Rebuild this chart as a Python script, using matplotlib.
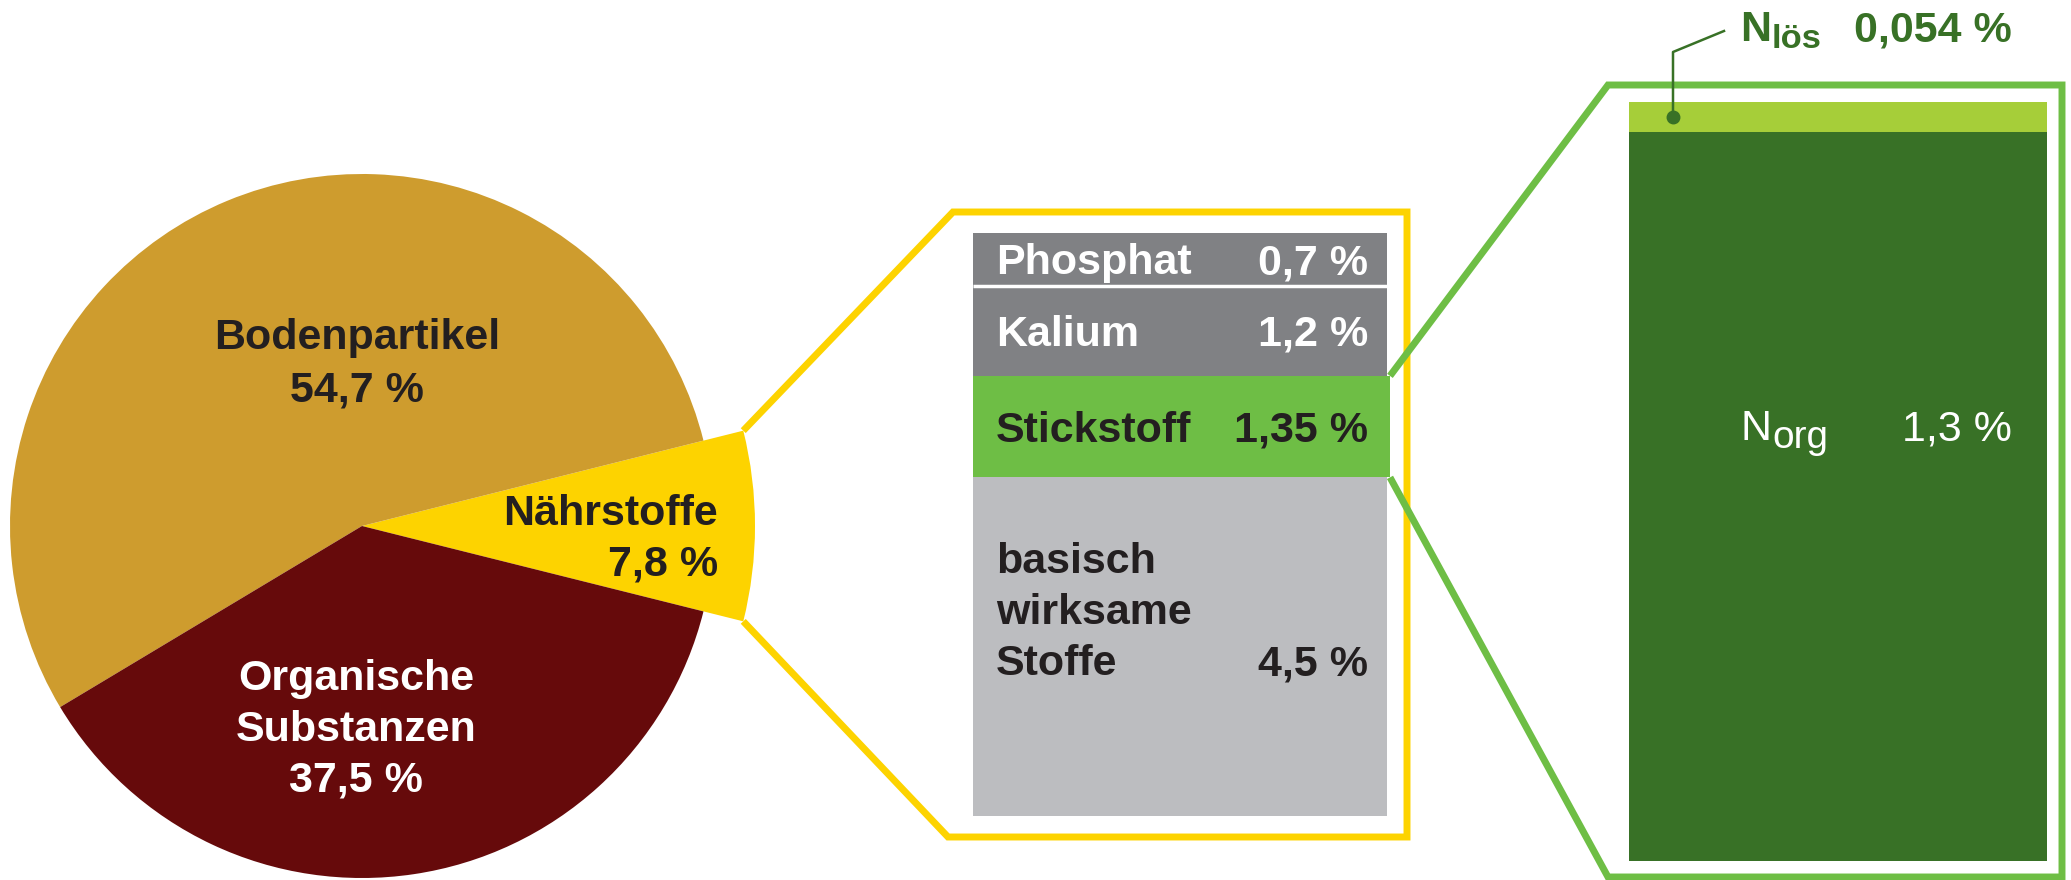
import numpy as np
import matplotlib
matplotlib.use("Agg")
import matplotlib.pyplot as plt

plt.rcParams['font.family'] = ['Liberation Sans', 'DejaVu Sans']

# pie: share of soil components (%)
pie_labels = ['Nährstoffe', 'Bodenpartikel', 'Organische\nSubstanzen']
pie_values = [7.8, 54.7, 37.5]
pie_texts = ['7,8 %', '54,7 %', '37,5 %']

# nutrient breakdown (%), top to bottom
nut_labels = ['Phosphat', 'Kalium', 'Stickstoff', 'basisch\nwirksame\nStoffe']
nut_values = [0.7, 1.2, 1.35, 4.5]
nut_texts = ['0,7 %', '1,2 %', '1,35 %', '4,5 %']

# nitrogen breakdown (%), top to bottom
n_subs = ['lös', 'org']
n_values = [0.054, 1.3]
n_texts = ['0,054 %', '1,3 %']

GOLD = '#CE9C2E'
DARKRED = '#660A0B'
YELLOW = '#FDD300'
GREY = '#808184'
LIGHTGREY = '#BCBDC0'
GREEN = '#6EBE45'
DARKGREEN = '#387126'
LIMEGREEN = '#A6CE39'
TXT = '#231F20'
FS = 31

fig = plt.figure(figsize=(20.71, 8.8), dpi=100)
ax = fig.add_axes([0, 0, 1, 1])

# ---- pie ----
cx, cy, r = 362, 526, 352
half = 360 * pie_values[0] / sum(pie_values) / 2
wedges, _ = ax.pie(pie_values, colors=[YELLOW, GOLD, DARKRED], startangle=half,
                   counterclock=False, center=(cx, cy), radius=r,
                   wedgeprops=dict(linewidth=0))
r_big = 393
wedges[0].set_radius(r_big)

ax.set_xlim(0, 2071)
ax.set_ylim(880, 0)
ax.set_aspect('equal')
ax.axis('off')

ax.text(357, 349, pie_labels[1], ha='center', va='baseline', fontsize=FS,
        fontweight='bold', color=TXT)
ax.text(357, 401, pie_texts[1], ha='center', va='baseline', fontsize=FS,
        fontweight='bold', color=TXT)
ax.text(718, 525, pie_labels[0], ha='right', va='baseline', fontsize=FS,
        fontweight='bold', color=TXT)
ax.text(718, 576, pie_texts[0], ha='right', va='baseline', fontsize=FS,
        fontweight='bold', color=TXT)
for i, line in enumerate(pie_labels[2].split('\n') + [pie_texts[2]]):
    ax.text(356, 690 + 51 * i, line, ha='center', va='baseline', fontsize=FS,
            fontweight='bold', color='white')

# wedge corners for the zoom frame
a = np.radians(half)
wx = cx + r_big * np.cos(a)
wy_top = cy - r_big * np.sin(a)
wy_bot = cy + r_big * np.sin(a)

# ---- nutrient stack ----
top, scale = 233, 75.2
heights = np.array(nut_values) * scale
bottoms = top + np.concatenate([[0], np.cumsum(heights)[:-1]])
widths = [414, 414, 417, 414]
ax.bar(973, heights, bottom=bottoms, width=widths, align='edge',
       color=[GREY, GREY, GREEN, LIGHTGREY], linewidth=0)
ax.hlines(bottoms[1], 973, 1387, color='white', lw=2.5)

ax.plot([wx, 953, 1407, 1407, 948, wx], [wy_top, 212, 212, 837, 837, wy_bot],
        color=YELLOW, lw=5, solid_joinstyle='miter', solid_capstyle='butt')

for i in range(3):
    c = 'white' if i < 2 else TXT
    yb = bottoms[i] + heights[i] / 2 + 15
    ax.text(996, yb, nut_labels[i], ha='left', va='baseline', fontsize=FS,
            fontweight='bold', color=c)
    ax.text(1368, yb, nut_texts[i], ha='right', va='baseline', fontsize=FS,
            fontweight='bold', color=c)
for i, line in enumerate(nut_labels[3].split('\n')):
    ax.text(996, 573 + 51 * i, line, ha='left', va='baseline', fontsize=FS,
            fontweight='bold', color=TXT)
ax.text(1368, 675, nut_texts[3], ha='right', va='baseline', fontsize=FS,
        fontweight='bold', color=TXT)

# ---- nitrogen stack ----
ntop, nscale = 102, 560.6
nh = np.array(n_values) * nscale
nb = ntop + np.concatenate([[0], np.cumsum(nh)[:-1]])
ax.bar(1629, nh, bottom=nb, width=418, align='edge',
       color=[LIMEGREEN, DARKGREEN], linewidth=0)

s_top, s_bot = bottoms[2], bottoms[2] + heights[2]
ax.plot([1390, 1608, 2062, 2062, 1608, 1390], [s_top, 85, 85, 877, 877, s_bot],
        color=GREEN, lw=5, solid_joinstyle='miter', solid_capstyle='butt')


def n_label(x, y, sub, dy, size, color, weight):
    # "N" followed by a lowered, smaller subscript right after it
    t = ax.text(x, y, 'N', ha='left', va='baseline', fontsize=FS, color=color,
                fontweight=weight)
    fig.canvas.draw()
    bb = t.get_window_extent()
    x_end = ax.transData.inverted().transform((bb.x1, bb.y0))[0]
    ax.text(x_end + 1, y + dy, sub, ha='left', va='baseline', fontsize=size,
            color=color, fontweight=weight)


# N_org label
n_label(1740, 440, n_subs[1], 8, FS * 0.9, 'white', 'normal')
ax.text(2012, 440, n_texts[1], ha='right', va='baseline', fontsize=FS,
        color='white')

# N_loes label with leader
dot_y = nb[0] + nh[0] / 2
ax.plot([1673, 1673, 1724], [dot_y, 52, 31], color=DARKGREEN, lw=1.8)
ax.plot(1673, dot_y, 'o', color=DARKGREEN, ms=9)
n_label(1740, 41, n_subs[0], 7, FS * 0.8, DARKGREEN, 'bold')
ax.text(2012, 41, n_texts[0], ha='right', va='baseline', fontsize=FS,
        color=DARKGREEN, fontweight='bold')

fig.savefig('out.png', dpi=100, facecolor='white')
